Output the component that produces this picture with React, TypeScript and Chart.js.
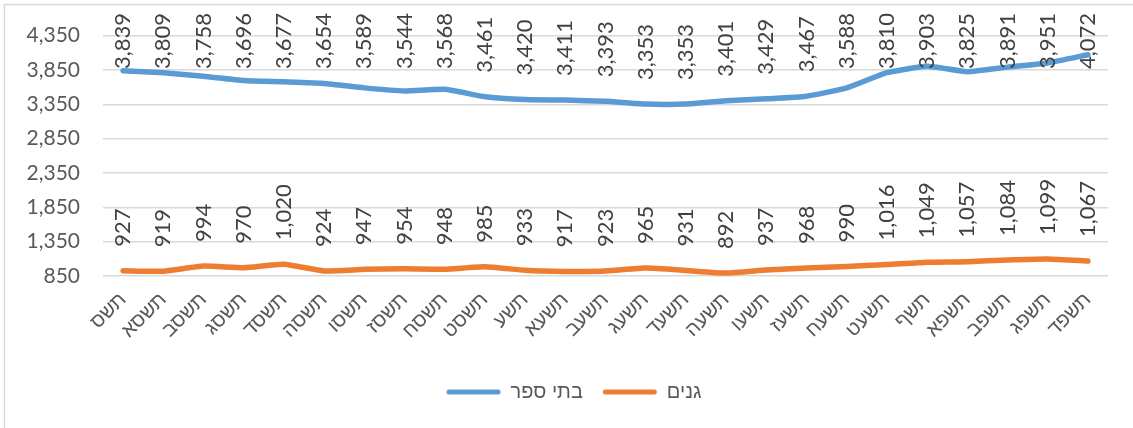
import React, { useEffect, useRef } from 'react';
import { Chart, registerables } from 'chart.js';

Chart.register(...registerables);

const categories = [
  'תשס', 'תשסא', 'תשסב', 'תשסג', 'תשסד', 'תשסה', 'תשסו', 'תשסז', 'תשסח', 'תשסט',
  'תשע', 'תשעא', 'תשעב', 'תשעג', 'תשעד', 'תשעה', 'תשעו', 'תשעז', 'תשעח', 'תשעט',
  'תשף', 'תשפא', 'תשפב', 'תשפג', 'תשפד',
];

const schools = [
  3839, 3809, 3758, 3696, 3677, 3654, 3589, 3544, 3568, 3461,
  3420, 3411, 3393, 3353, 3353, 3401, 3429, 3467, 3588, 3810,
  3903, 3825, 3891, 3951, 4072,
];

const kindergartens = [
  927, 919, 994, 970, 1020, 924, 947, 954, 948, 985,
  933, 917, 923, 965, 931, 892, 937, 968, 990, 1016,
  1049, 1057, 1084, 1099, 1067,
];

const seriesNames = ['בתי ספר', 'גנים'];
const yMin = 850;
const yMax = 4350;
const yStep = 500;

const NUM_FONT = 'Lato, "Liberation Sans", sans-serif';
const HEB_FONT = '"Liberation Sans", "DejaVu Sans", sans-serif';

const fmt = (v: number) => v.toLocaleString('en-US');

const labelPlugin = {
  id: 'rotLabels',
  afterDatasetsDraw(chart: any) {
    const ctx = chart.ctx;
    ctx.save();
    ctx.font = '22px ' + NUM_FONT;
    ctx.fillStyle = '#404040';
    chart.data.datasets.forEach((ds: any, i: number) => {
      const meta = chart.getDatasetMeta(i);
      meta.data.forEach((pt: any, j: number) => {
        const text = fmt(ds.data[j]);
        const w = ctx.measureText(text).width;
        let yEnd = pt.y - 24;
        if (yEnd - w < 13) yEnd = 13 + w;
        ctx.save();
        ctx.translate(pt.x, yEnd);
        ctx.rotate(-Math.PI / 2);
        ctx.textAlign = 'left';
        ctx.textBaseline = 'middle';
        ctx.fillText(text, 0, 0);
        ctx.restore();
      });
    });
    ctx.restore();
  },
};

const framePlugin = {
  id: 'frame',
  afterLayout(chart: any) {
    if (chart.legend) {
      chart.legend.left += 20;
      chart.legend.right += 20;
    }
  },
  beforeDraw(chart: any) {
    const ctx = chart.ctx;
    ctx.save();
    ctx.fillStyle = '#ffffff';
    ctx.fillRect(0, 0, chart.width, chart.height);
    ctx.strokeStyle = '#d9d9d9';
    ctx.lineWidth = 1.5;
    ctx.beginPath();
    ctx.moveTo(4.5, chart.height);
    ctx.lineTo(4.5, 4.5);
    ctx.lineTo(chart.width, 4.5);
    ctx.stroke();
    ctx.restore();
  },
};

export default function App() {
  const ref = useRef<HTMLCanvasElement | null>(null);

  useEffect(() => {
    if (!ref.current) return;
    const chart = new Chart(ref.current, {
      type: 'line',
      data: {
        labels: categories,
        datasets: [
          {
            label: seriesNames[0],
            data: schools,
            borderColor: '#5B9BD5',
            backgroundColor: '#5B9BD5',
            borderWidth: 5.5,
            borderCapStyle: 'round',
            borderJoinStyle: 'round',
            pointRadius: 0,
            tension: 0.15,
          },
          {
            label: seriesNames[1],
            data: kindergartens,
            borderColor: '#ED7D31',
            backgroundColor: '#ED7D31',
            borderWidth: 5.5,
            borderCapStyle: 'round',
            borderJoinStyle: 'round',
            pointRadius: 0,
            tension: 0.15,
          },
        ],
      },
      options: {
        animation: false,
        responsive: true,
        maintainAspectRatio: false,
        layout: { padding: { top: 33, right: 25, bottom: 16, left: 0 } },
        plugins: {
          tooltip: { enabled: false },
          legend: {
            position: 'bottom',
            labels: {
              font: { family: HEB_FONT, size: 20 },
              color: '#595959',
              boxWidth: 54,
              boxHeight: 5,
              useBorderRadius: true,
              borderRadius: 2.5,
              padding: 20,
              generateLabels: (c: any) =>
                c.data.datasets.map((ds: any, i: number) => ({
                  text: ds.label,
                  fillStyle: ds.borderColor,
                  strokeStyle: ds.borderColor,
                  lineWidth: 0,
                  hidden: false,
                  datasetIndex: i,
                  borderRadius: 2.5,
                  fontColor: '#595959',
                })),
            },
          },
        },
        scales: {
          x: {
            offset: true,
            grid: { display: false, drawTicks: false },
            border: { display: false },
            ticks: {
              autoSkip: false,
              minRotation: 45,
              maxRotation: 45,
              padding: 12,
              color: '#595959',
              font: { family: HEB_FONT, size: 20 },
            },
            afterFit: (s: any) => {
              s.height = 86;
            },
          },
          y: {
            min: yMin,
            max: yMax,
            grid: { color: '#d9d9d9', lineWidth: 1.5, drawTicks: false },
            border: { display: false },
            ticks: {
              stepSize: yStep,
              padding: 23,
              color: '#595959',
              font: { family: NUM_FONT, size: 21 },
              callback: (v: any) => fmt(Number(v)),
            },
            afterFit: (s: any) => {
              s.width = 103;
            },
          },
        },
      },
      plugins: [framePlugin, labelPlugin],
    });
    return () => chart.destroy();
  }, []);

  return (
    <div style={{ position: 'fixed', left: 0, top: 0, width: 1133, height: 428, background: '#fff' }}>
      <canvas ref={ref} />
    </div>
  );
}
